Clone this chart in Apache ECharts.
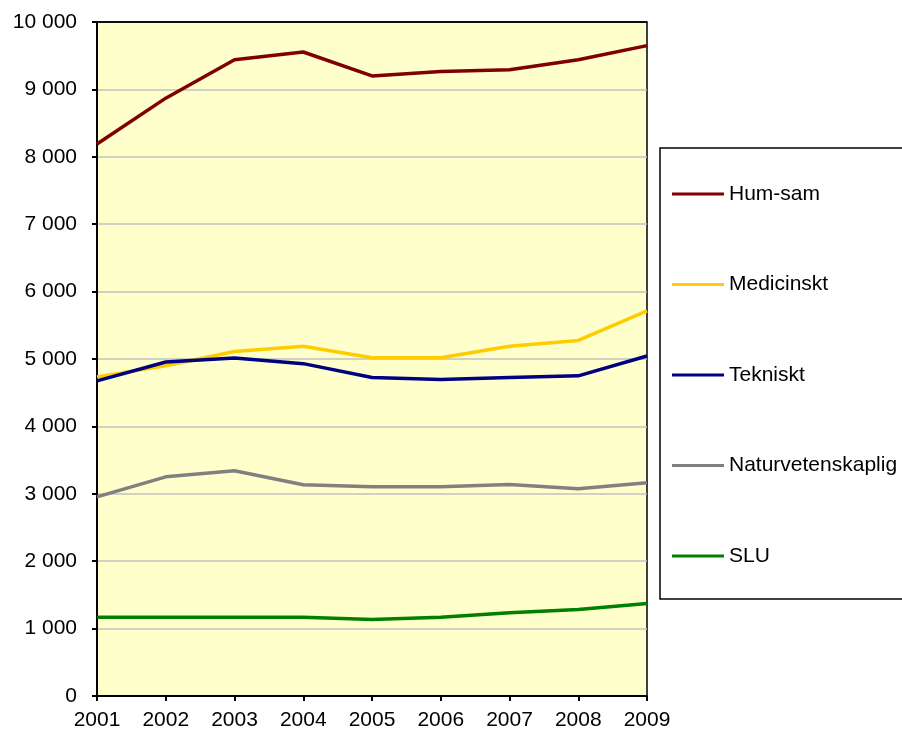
<!DOCTYPE html>
<html>
<head>
<meta charset="utf-8">
<script src="https://cdn.jsdelivr.net/npm/echarts@6/dist/echarts.min.js"></script>
<style>
  html, body { margin: 0; padding: 0; background: #fff; }
  #chart { width: 902px; height: 740px; }
</style>
</head>
<body>
<div id="chart"></div>
<script>
const years = ["2001", "2002", "2003", "2004", "2005", "2006", "2007", "2008", "2009"];
const humSam = [8190, 8870, 9440, 9555, 9200, 9265, 9290, 9440, 9650];
const medicinskt = [4735, 4900, 5110, 5190, 5020, 5020, 5190, 5275, 5715];
const tekniskt = [4676, 4956, 5015, 4931, 4725, 4696, 4725, 4750, 5044];
const naturvet = [2955, 3252, 3342, 3134, 3104, 3104, 3139, 3074, 3163];
const slu = [1169, 1170, 1170, 1170, 1134, 1170, 1234, 1283, 1373];

const seriesNames = ["Hum-sam", "Medicinskt", "Tekniskt", "Naturvetenskaplig", "SLU"];
const seriesData = [humSam, medicinskt, tekniskt, naturvet, slu];
const seriesColors = ["#800000", "#FFCC00", "#000080", "#808080", "#008000"];

const font = "'Liberation Sans', Arial, sans-serif";

function fmt(v) {
  return String(v).replace(/\B(?=(\d{3})+(?!\d))/g, " ");
}

// grey grid lines, the top one (10 000) black so it reads as the plot border
const splitColors = [];
for (let i = 0; i < 10; i++) splitColors.push("#C0C0C0");
splitColors.push("#000000");

const chart = echarts.init(document.getElementById("chart"));
chart.setOption({
  animation: false,
  backgroundColor: "#ffffff",
  textStyle: { fontFamily: font },
  grid: {
    left: 97,
    right: 255,
    top: 22,
    bottom: 44,
    show: true,
    backgroundColor: "#FFFFCC",
    borderColor: "#000000",
    borderWidth: 1.5
  },
  legend: {
    orient: "vertical",
    left: 660,
    top: 148,
    data: seriesNames,
    icon: "rect",
    itemWidth: 52,
    itemHeight: 3,
    itemGap: 68.5,
    padding: [35, 120, 32, 12],
    backgroundColor: "#ffffff",
    borderColor: "#000000",
    borderWidth: 1.5,
    borderRadius: 0,
    itemStyle: { borderWidth: 0 },
    textStyle: { fontSize: 21, lineHeight: 22, color: "#000", fontFamily: font }
  },
  xAxis: {
    type: "category",
    data: years,
    boundaryGap: false,
    axisLine: { lineStyle: { color: "#000", width: 2 } },
    axisTick: { show: true, length: 5, lineStyle: { color: "#000", width: 2 } },
    axisLabel: { fontSize: 21, color: "#000", margin: 14, fontFamily: font },
    splitLine: { show: false }
  },
  yAxis: {
    type: "value",
    min: 0,
    max: 10000,
    interval: 1000,
    axisLine: { show: true, lineStyle: { color: "#000", width: 2 } },
    axisTick: { show: true, length: 5, lineStyle: { color: "#000", width: 2 } },
    axisLabel: { fontSize: 21, color: "#000", margin: 20, formatter: fmt, fontFamily: font },
    splitLine: { show: true, lineStyle: { color: splitColors, width: 1.5 } }
  },
  series: seriesNames.map((name, i) => ({
    name: name,
    type: "line",
    data: seriesData[i],
    symbol: "none",
    color: seriesColors[i],
    lineStyle: { width: 3.5, color: seriesColors[i] },
    itemStyle: { color: seriesColors[i] }
  }))
});
</script>
</body>
</html>
